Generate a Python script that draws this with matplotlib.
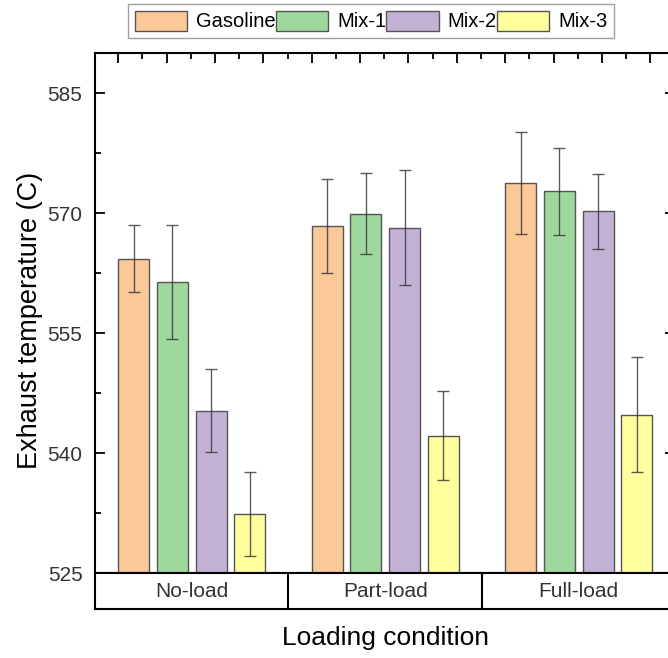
import matplotlib.pyplot as plt
import numpy as np

plt.rcParams['font.family'] = ['Liberation Sans', 'DejaVu Sans']

# data
conditions = ["No-load", "Part-load", "Full-load"]
fuels = ["Gasoline", "Mix-1", "Mix-2", "Mix-3"]
gasoline = [564.3, 568.4, 573.8]
gasoline_err = [4.15, 5.85, 6.35]
mix1 = [561.4, 569.9, 572.7]
mix1_err = [7.1, 5.05, 5.4]
mix2 = [545.3, 568.2, 570.2]
mix2_err = [5.2, 7.2, 4.65]
mix3 = [532.4, 542.2, 544.8]
mix3_err = [5.2, 5.6, 7.2]

colors = ["#FBC898", "#9ED89C", "#C3B2D6", "#FFFF9E"]
values = [gasoline, mix1, mix2, mix3]
errors = [gasoline_err, mix1_err, mix2_err, mix3_err]

W, H = 668, 658
fig = plt.figure(figsize=(W / 100, H / 100), dpi=100)

# main axes (right edge runs a bit past the image, as in the reference)
left, right, top, base, bottom = 95, 675.5, 53, 573.3, 609.3
ax = fig.add_axes([left / W, (H - base) / H, (right - left) / W, (base - top) / H])
cax = fig.add_axes([left / W, (H - bottom) / H, (right - left) / W, (bottom - base) / H])

x = np.arange(len(conditions)) + 0.5
offsets = [-0.3, -0.1, 0.1, 0.3]
handles = []
for i in range(4):
    b = ax.bar(x + offsets[i], np.array(values[i]) - 525, 0.16, bottom=525,
               color=colors[i], edgecolor="#555555", linewidth=1.0, label=fuels[i], zorder=2)
    handles.append(b)
    ax.errorbar(x + offsets[i], values[i], yerr=errors[i], fmt="none",
                ecolor="#333333", elinewidth=1.0, capsize=4.5, capthick=1.0,
                alpha=0.8, zorder=3)

ax.set_xlim(0, 3)
ax.set_ylim(525, 590)
ax.set_yticks(np.arange(525, 586, 15))
ax.set_yticks(np.arange(532.5, 590, 15), minor=True)
ax.tick_params(axis="y", which="both", direction="in", left=True, right=True,
               labelsize=15, labelcolor="#333333", width=1.3, pad=9)
ax.tick_params(axis="y", which="major", length=7)
ax.tick_params(axis="y", which="minor", length=4)

top_major = np.arange(0.12, 3, 0.25)
ax.set_xticks(top_major)
ax.set_xticks(top_major[:-1] + 0.125, minor=True)
ax.tick_params(axis="x", which="both", direction="in", top=True, bottom=False,
               labelbottom=False, labeltop=False, width=1.3)
ax.tick_params(axis="x", which="major", length=7)
ax.tick_params(axis="x", which="minor", length=4)
for s in ax.spines.values():
    s.set_linewidth(1.5)

# category strip under the plot
cax.set_xlim(0, 3)
cax.set_ylim(0, 1)
cax.set_xticks([])
cax.set_yticks([])
for s in cax.spines.values():
    s.set_linewidth(1.5)
for d in [1, 2]:
    cax.axvline(d, color="black", linewidth=1.5)
for xi, c in zip(x, conditions):
    cax.text(xi, 0.5, c, ha="center", va="center", fontsize=15, color="#333333")

fig.text(30 / W, 1 - 320 / H, "Exhaust temperature (C)", rotation=90,
         ha="center", va="center", fontsize=19.5)
fig.text(385 / W, 1 - 638 / H, "Loading condition", ha="center", va="center", fontsize=19)

leg = fig.legend(handles, fuels, loc="center", bbox_to_anchor=(371 / W, 1 - 21 / H),
                 ncol=4, fontsize=14.5, frameon=True, fancybox=False,
                 handlelength=2.6, handleheight=1.15, handletextpad=0.45,
                 columnspacing=0.0, borderpad=0.35, borderaxespad=0)
leg.get_frame().set_edgecolor("#888888")
leg.get_frame().set_linewidth(1.0)

fig.savefig("out.png", dpi=100)
